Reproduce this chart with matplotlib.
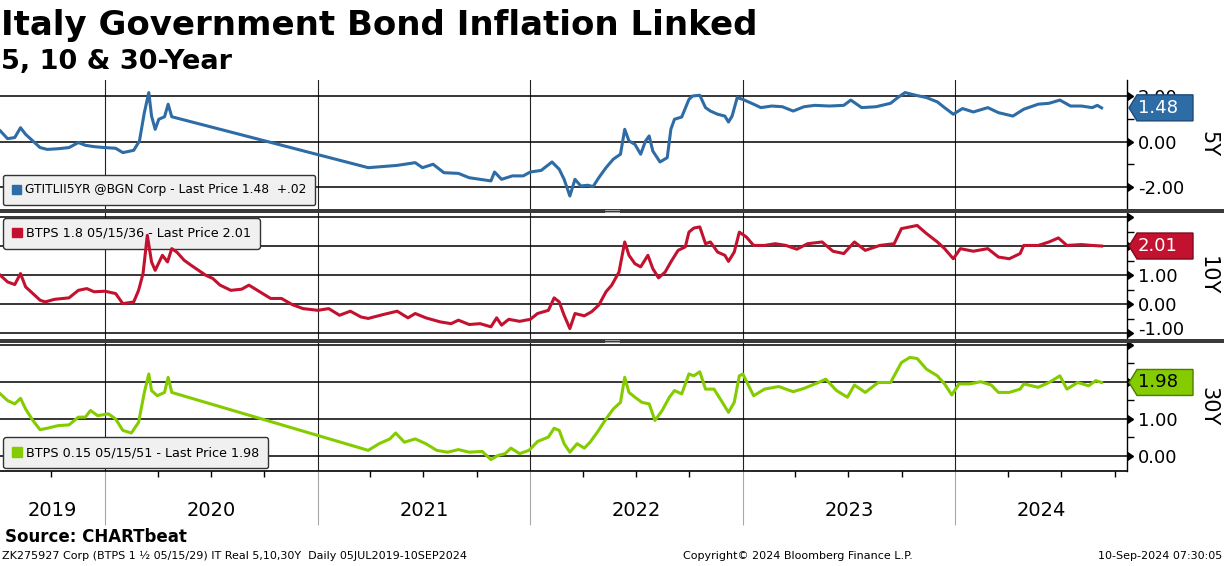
import numpy as np
import pandas as pd
import matplotlib
matplotlib.use('Agg')
import matplotlib.pyplot as plt
import matplotlib.dates as mdates
import matplotlib.transforms as mtransforms
from matplotlib.patches import Polygon, Rectangle, Patch
from matplotlib.lines import Line2D
from matplotlib.ticker import FixedLocator, MultipleLocator, FuncFormatter

plt.rcParams['font.family'] = 'DejaVu Sans'

# ---- data (decimal years) ----
t5 = [2019.508, 2019.542, 2019.576, 2019.603, 2019.627, 2019.661, 2019.695, 2019.729, 2019.780, 2019.831,
      2019.875, 2019.908, 2019.949, 2020.000, 2020.051, 2020.085, 2020.136, 2020.163, 2020.186, 2020.207,
      2020.220, 2020.237, 2020.254, 2020.281, 2020.298, 2020.315, 2021.237, 2021.305, 2021.373, 2021.458,
      2021.492, 2021.542, 2021.593, 2021.661, 2021.712, 2021.763, 2021.814, 2021.831, 2021.864, 2021.915,
      2021.966, 2022.000, 2022.051, 2022.102, 2022.136, 2022.159, 2022.186, 2022.210, 2022.237, 2022.271,
      2022.295, 2022.322, 2022.356, 2022.390, 2022.424, 2022.444, 2022.464, 2022.492, 2022.519, 2022.542,
      2022.559, 2022.576, 2022.610, 2022.644, 2022.661, 2022.678, 2022.712, 2022.746, 2022.763, 2022.797,
      2022.824, 2022.847, 2022.881, 2022.915, 2022.932, 2022.949, 2022.973, 2023.000, 2023.051, 2023.085,
      2023.136, 2023.186, 2023.237, 2023.288, 2023.339, 2023.407, 2023.475, 2023.508, 2023.559, 2023.627,
      2023.695, 2023.729, 2023.763, 2023.814, 2023.864, 2023.915, 2023.949, 2023.990, 2024.034, 2024.085,
      2024.153, 2024.203, 2024.271, 2024.322, 2024.390, 2024.441, 2024.492, 2024.542, 2024.593, 2024.644,
      2024.668, 2024.688]
y5 = [0.47, 0.13, 0.18, 0.61, 0.32, 0.03, -0.26, -0.34, -0.31, -0.26,
      -0.04, -0.16, -0.22, -0.26, -0.29, -0.48, -0.38, 0.03, 1.27, 2.15,
      1.12, 0.54, 0.98, 1.09, 1.64, 1.09, -1.14, -1.09, -1.04, -0.92,
      -1.14, -0.99, -1.36, -1.39, -1.58, -1.65, -1.72, -1.33, -1.65, -1.50,
      -1.50, -1.33, -1.26, -0.89, -1.21, -1.65, -2.38, -1.65, -1.94, -1.91,
      -1.97, -1.58, -1.14, -0.77, -0.55, 0.54, 0.03, -0.12, -0.55, 0.03,
      0.25, -0.41, -0.89, -0.70, 0.54, 0.98, 1.08, 1.85, 2.00, 2.03,
      1.49, 1.34, 1.20, 1.12, 0.86, 1.12, 1.93, 1.85, 1.64, 1.49,
      1.56, 1.53, 1.34, 1.53, 1.59, 1.56, 1.59, 1.82, 1.49, 1.53,
      1.68, 1.93, 2.15, 2.03, 1.93, 1.74, 1.49, 1.20, 1.45, 1.30,
      1.49, 1.27, 1.12, 1.42, 1.64, 1.68, 1.82, 1.56, 1.56, 1.49,
      1.59, 1.48]

t10 = [2019.508, 2019.542, 2019.576, 2019.603, 2019.627, 2019.661, 2019.695, 2019.719, 2019.763, 2019.831,
       2019.875, 2019.915, 2019.949, 2020.000, 2020.051, 2020.085, 2020.136, 2020.159, 2020.180, 2020.200,
       2020.220, 2020.237, 2020.271, 2020.295, 2020.315, 2020.339, 2020.373, 2020.407, 2020.441, 2020.475,
       2020.508, 2020.542, 2020.593, 2020.644, 2020.678, 2020.729, 2020.780, 2020.831, 2020.881, 2020.932,
       2021.000, 2021.051, 2021.102, 2021.153, 2021.203, 2021.237, 2021.305, 2021.373, 2021.424, 2021.458,
       2021.508, 2021.576, 2021.627, 2021.661, 2021.712, 2021.763, 2021.814, 2021.841, 2021.864, 2021.898,
       2021.949, 2022.000, 2022.034, 2022.085, 2022.112, 2022.136, 2022.159, 2022.186, 2022.210, 2022.254,
       2022.288, 2022.322, 2022.356, 2022.383, 2022.417, 2022.444, 2022.464, 2022.492, 2022.519, 2022.553,
       2022.576, 2022.603, 2022.634, 2022.661, 2022.695, 2022.729, 2022.746, 2022.769, 2022.797, 2022.824,
       2022.847, 2022.881, 2022.915, 2022.932, 2022.959, 2022.983, 2023.017, 2023.051, 2023.102, 2023.153,
       2023.203, 2023.254, 2023.305, 2023.373, 2023.424, 2023.475, 2023.525, 2023.576, 2023.644, 2023.712,
       2023.746, 2023.786, 2023.820, 2023.864, 2023.915, 2023.949, 2023.990, 2024.024, 2024.085, 2024.153,
       2024.203, 2024.254, 2024.305, 2024.322, 2024.390, 2024.441, 2024.485, 2024.525, 2024.593, 2024.644,
       2024.688]
y10 = [1.00, 0.77, 0.68, 1.06, 0.60, 0.37, 0.14, 0.08, 0.17, 0.22,
       0.48, 0.54, 0.43, 0.45, 0.37, 0.02, 0.08, 0.48, 1.06, 2.38,
       1.46, 1.17, 1.69, 1.46, 1.92, 1.80, 1.52, 1.34, 1.17, 1.00,
       0.89, 0.66, 0.48, 0.52, 0.66, 0.43, 0.20, 0.20, -0.01, -0.15,
       -0.21, -0.15, -0.38, -0.24, -0.44, -0.49, -0.36, -0.24, -0.47, -0.32,
       -0.47, -0.61, -0.67, -0.55, -0.70, -0.67, -0.78, -0.47, -0.72, -0.52,
       -0.59, -0.52, -0.32, -0.21, 0.22, 0.08, -0.38, -0.84, -0.32, -0.40,
       -0.26, -0.03, 0.43, 0.66, 1.11, 2.15, 1.69, 1.40, 1.29, 1.69,
       1.23, 0.91, 1.11, 1.46, 1.86, 1.98, 2.49, 2.63, 2.67, 2.09,
       2.15, 1.80, 1.69, 1.48, 1.80, 2.49, 2.32, 2.03, 2.03, 2.09,
       2.03, 1.90, 2.09, 2.15, 1.83, 1.75, 2.15, 1.86, 2.03, 2.09,
       2.61, 2.67, 2.72, 2.44, 2.15, 1.92, 1.57, 1.92, 1.83, 1.92,
       1.63, 1.57, 1.75, 2.03, 2.03, 2.15, 2.29, 2.03, 2.06, 2.03,
       2.01]

t30 = [2019.508, 2019.542, 2019.576, 2019.603, 2019.627, 2019.661, 2019.695, 2019.729, 2019.780, 2019.831,
       2019.875, 2019.908, 2019.932, 2019.966, 2020.017, 2020.051, 2020.085, 2020.125, 2020.159, 2020.186,
       2020.207, 2020.220, 2020.247, 2020.281, 2020.298, 2020.315, 2021.237, 2021.288, 2021.339, 2021.366,
       2021.407, 2021.458, 2021.508, 2021.559, 2021.610, 2021.661, 2021.712, 2021.773, 2021.814, 2021.847,
       2021.881, 2021.908, 2021.949, 2021.993, 2022.034, 2022.085, 2022.112, 2022.136, 2022.159, 2022.186,
       2022.220, 2022.254, 2022.281, 2022.315, 2022.356, 2022.390, 2022.424, 2022.444, 2022.464, 2022.492,
       2022.525, 2022.559, 2022.586, 2022.620, 2022.654, 2022.678, 2022.712, 2022.746, 2022.769, 2022.797,
       2022.824, 2022.864, 2022.898, 2022.932, 2022.959, 2022.983, 2023.000, 2023.051, 2023.102, 2023.169,
       2023.237, 2023.288, 2023.356, 2023.390, 2023.441, 2023.492, 2023.525, 2023.576, 2023.637, 2023.695,
       2023.746, 2023.786, 2023.820, 2023.864, 2023.915, 2023.949, 2023.983, 2024.017, 2024.068, 2024.119,
       2024.169, 2024.203, 2024.254, 2024.305, 2024.322, 2024.390, 2024.441, 2024.492, 2024.525, 2024.576,
       2024.627, 2024.661, 2024.688]
y30 = [1.67, 1.49, 1.40, 1.55, 1.26, 0.95, 0.70, 0.74, 0.81, 0.83,
       1.04, 1.04, 1.22, 1.08, 1.13, 0.99, 0.68, 0.61, 0.90, 1.71,
       2.21, 1.76, 1.62, 1.71, 2.12, 1.71, 0.14, 0.32, 0.45, 0.61,
       0.36, 0.45, 0.32, 0.14, 0.09, 0.16, 0.09, 0.11, -0.11, 0.00,
       0.05, 0.20, 0.05, 0.14, 0.38, 0.50, 0.74, 0.68, 0.32, 0.09,
       0.32, 0.20, 0.36, 0.63, 0.99, 1.26, 1.44, 2.12, 1.71, 1.58,
       1.44, 1.40, 0.95, 1.22, 1.58, 1.76, 1.67, 2.21, 2.16, 2.27,
       1.80, 1.80, 1.49, 1.17, 1.44, 2.16, 2.21, 1.62, 1.80, 1.87,
       1.73, 1.82, 1.98, 2.07, 1.76, 1.58, 1.91, 1.71, 1.98, 1.98,
       2.52, 2.66, 2.63, 2.34, 2.16, 1.94, 1.64, 1.94, 1.94, 2.00,
       1.91, 1.71, 1.71, 1.80, 1.94, 1.85, 1.98, 2.16, 1.80, 1.98,
       1.89, 2.03, 1.98]

last_prices = [1.48, 2.01, 1.98]
series_names = ['5Y', '10Y', '30Y']
legend_labels = ['GTITLII5YR @BGN Corp - Last Price 1.48  +.02',
                 'BTPS 1.8 05/15/36 - Last Price 2.01',
                 'BTPS 0.15 05/15/51 - Last Price 1.98']
years = [2019, 2020, 2021, 2022, 2023, 2024]

BLUE = '#2e6ca6'
RED = '#c2122f'
GREEN = '#84cc00'


def to_dates(ts):
    out = []
    for t in ts:
        y = int(t)
        out.append(pd.Timestamp(y, 1, 1) + pd.Timedelta(days=(t - y) * 365.25))
    return out


x_start = pd.Timestamp('2019-07-05')
x_end = pd.Timestamp('2024-10-22')

W, H = 1224, 566
fig = plt.figure(figsize=(W / 100, H / 100), dpi=100)
fig.patch.set_facecolor('white')


def box(top, bottom):
    return [0, 1 - bottom / H, 1127 / W, (bottom - top) / H]


ax1 = fig.add_axes(box(80, 209))
ax2 = fig.add_axes(box(213, 339))
ax3 = fig.add_axes(box(343, 471))

lift = mtransforms.ScaledTranslation(0, 5 / 100, fig.dpi_scale_trans)


def setup(ax, ts, vals, color, edge, txtcolor, ylim, majors, unlabelled, raised, minor_step,
          label, loc, anchor, name, last, legsize):
    ax.plot(to_dates(ts), vals, color=color, lw=2.2, zorder=3, solid_joinstyle='round')
    ax.set_xlim(x_start, x_end)
    ax.set_ylim(*ylim)
    ax.yaxis.set_major_locator(FixedLocator(majors))
    ax.yaxis.set_minor_locator(MultipleLocator(minor_step))
    ax.yaxis.set_major_formatter(FuncFormatter(
        lambda v, p: '' if round(v, 2) in unlabelled else f'{v:.2f}'))
    ax.yaxis.tick_right()
    ax.tick_params(axis='y', which='major', length=6, width=1, pad=2, labelsize=13,
                   direction='out', colors='black')
    ax.tick_params(axis='y', which='minor', length=5, width=1, direction='out')
    for i, t in enumerate(ax.yaxis.get_major_ticks()):
        t.tick2line.set_marker(9)
        t.tick2line.set_markersize(6)
        if i < len(majors) and majors[i] in raised:
            t.label2.set_transform(t.label2.get_transform() + lift)
    ax.xaxis.set_major_locator(mdates.YearLocator())
    ax.grid(axis='y', which='major', color='black', lw=1.1)
    ax.grid(axis='x', which='major', color='#222222', lw=0.8)
    for s in ['left', 'top']:
        ax.spines[s].set_visible(False)
    ax.spines['right'].set_linewidth(1)
    ax.set_facecolor('white')

    leg = ax.legend(handles=[Patch(facecolor=color, edgecolor=color)], labels=[label],
                    loc=loc, bbox_to_anchor=anchor, borderaxespad=0, fontsize=legsize,
                    handlelength=0.8, handleheight=0.8, handletextpad=0.3,
                    borderpad=0.7, fancybox=True, framealpha=1)
    leg.get_frame().set_facecolor('#f0f0f0')
    leg.get_frame().set_edgecolor('#333333')
    leg.get_frame().set_linewidth(1)
    leg.set_zorder(2)

    # last price tag
    tr = fig.dpi_scale_trans + mtransforms.ScaledTranslation(1, last, ax.get_yaxis_transform())
    tag = Polygon([(0.02, 0), (0.10, 0.13), (0.66, 0.13), (0.66, -0.13), (0.10, -0.13)],
                  closed=True, transform=tr, facecolor=color, edgecolor=edge, lw=1,
                  clip_on=False, zorder=10)
    ax.add_artist(tag)
    ax.text(0.105, 0, f'{last:.2f}', transform=tr, ha='left', va='center', fontsize=13,
            color=txtcolor, zorder=11, clip_on=False)
    ax.text(1.0719, 0.5, name, transform=ax.transAxes, rotation=270, ha='center',
            va='center', fontsize=15)


setup(ax1, t5, y5, BLUE, '#1d4b78', 'white', (-2.95, 2.70), [-2, 0, 2], [], [], 1.0,
      legend_labels[0], 'lower left', (0.0027, 0.031), series_names[0], last_prices[0], 8.8)
setup(ax2, t10, y10, RED, '#7d0a1d', 'white', (-1.20, 3.15), [-1, 0, 1, 2, 3], [3.0], [-1], 0.5,
      legend_labels[1], 'upper left', (0.0027, 0.96), series_names[1], last_prices[1], 9.2)
setup(ax3, t30, y30, GREEN, '#4f7a00', 'black', (-0.42, 3.05), [0, 1, 2, 3], [3.0], [], 0.5,
      legend_labels[2], 'lower left', (0.0027, 0.023), series_names[2], last_prices[2], 9.2)

for ax in (ax1, ax2):
    ax.spines['bottom'].set_visible(False)
    ax.tick_params(axis='x', which='both', bottom=False, labelbottom=False)

ax3.spines['bottom'].set_linewidth(1.2)
ax3.xaxis.set_minor_locator(mdates.MonthLocator(bymonth=[1, 4, 7, 10]))
ax3.tick_params(axis='x', which='major', length=39, width=0.8, color='#a8a8a8',
                labelbottom=False)
ax3.tick_params(axis='x', which='minor', length=4, width=1, color='black')

for y in years:
    s = max(pd.Timestamp(y, 1, 1), x_start)
    e = min(pd.Timestamp(y + 1, 1, 1), x_end)
    ax3.text(s + (e - s) / 2, -0.305, str(y), transform=ax3.get_xaxis_transform(),
             ha='center', va='center', fontsize=14)

# panel separators
for top in (209, 339):
    fig.add_artist(Rectangle((0, 1 - (top + 4) / H), 1, 4 / H, transform=fig.transFigure,
                             facecolor='#3a3a3a', edgecolor='none', zorder=20))
    for dy in (1.2, 2.8):
        yy = 1 - (top + dy) / H
        fig.add_artist(Line2D([605 / W, 619 / W], [yy, yy], transform=fig.transFigure,
                              color='#bbbbbb', lw=0.6, zorder=21))

fig.text(1 / W, 1 - 9 / H, 'Italy Government Bond Inflation Linked', fontsize=24.5,
         fontweight='bold', va='top', ha='left')
fig.text(1 / W, 1 - 49 / H, '5, 10 & 30-Year', fontsize=19.5, fontweight='bold',
         va='top', ha='left')
fig.text(5 / W, 1 - 537 / H, 'Source: CHARTbeat', fontsize=12, fontweight='bold',
         va='center', ha='left')
fig.text(2 / W, 1 - 556 / H,
         'ZK275927 Corp (BTPS 1 \u00bd 05/15/29) IT Real 5,10,30Y  Daily 05JUL2019-10SEP2024',
         fontsize=8, va='center', ha='left')
fig.text(798 / W, 1 - 556 / H, 'Copyright\u00a9 2024 Bloomberg Finance L.P.', fontsize=8,
         va='center', ha='center')
fig.text(1222 / W, 1 - 556 / H, '10-Sep-2024 07:30:05', fontsize=8, va='center', ha='right')

fig.savefig('out.png', dpi=100, facecolor='white')
